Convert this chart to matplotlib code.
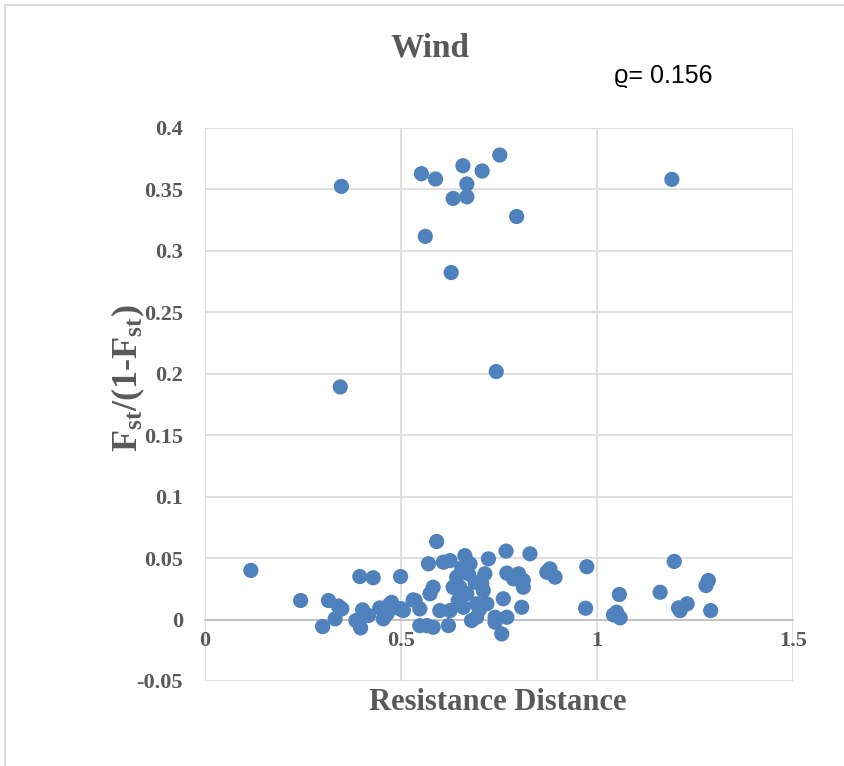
import numpy as np
import matplotlib.pyplot as plt
from matplotlib.lines import Line2D

plt.rcParams['mathtext.fontset'] = 'custom'
plt.rcParams['mathtext.rm'] = 'Liberation Serif:bold'
plt.rcParams['mathtext.bf'] = 'Liberation Serif:bold'
plt.rcParams['mathtext.it'] = 'Liberation Serif:bold'

# resistance distance vs Fst/(1-Fst)
res_dist = [0.348, 0.552, 0.588, 0.658, 0.707, 0.752, 0.668, 0.633, 0.668, 0.795,
            0.562, 0.628, 1.191, 0.345, 0.743,
            0.117, 0.244, 0.315, 0.340, 0.349, 0.332, 0.300, 0.395, 0.429, 0.499,
            0.402, 0.385, 0.397, 0.417, 0.446, 0.455, 0.476, 0.497, 0.531, 0.548,
            0.591, 0.570, 0.608, 0.625, 0.663, 0.676, 0.723, 0.768, 0.829,
            0.770, 0.800, 0.812, 0.812, 0.787, 0.880, 0.893, 0.974, 0.971,
            0.714, 0.706, 0.710, 0.582, 0.574, 0.536, 0.502, 0.566, 0.582, 0.621,
            0.680, 0.693, 0.740, 0.757, 0.761, 0.808, 0.642, 0.650, 0.633, 0.668,
            0.625, 0.599, 0.659, 0.693, 0.719, 0.770, 0.646, 0.672, 0.689, 0.548,
            0.740, 0.872, 0.506, 0.470, 0.465, 0.655, 0.700,
            1.057, 1.050, 1.042, 1.059, 1.161, 1.197, 1.208, 1.212, 1.230,
            1.284, 1.278, 1.290]
fst_ratio = [0.3525, 0.3628, 0.3585, 0.3693, 0.3650, 0.3780, 0.3544, 0.3427, 0.3440, 0.3280,
             0.3118, 0.2824, 0.3582, 0.1893, 0.2018,
             0.0400, 0.0155, 0.0155, 0.0110, 0.0087, 0.0006, -0.0057, 0.0350, 0.0340, 0.0350,
             0.0079, -0.0008, -0.0068, 0.0033, 0.0095, 0.0006, 0.0140, 0.0087, 0.0160, -0.0050,
             0.0635, 0.0454, 0.0467, 0.0480, 0.0520, 0.0454, 0.0494, 0.0557, 0.0535,
             0.0378, 0.0372, 0.0318, 0.0263, 0.0331, 0.0413, 0.0345, 0.0430, 0.0092,
             0.0372, 0.0290, 0.0236, 0.0263, 0.0210, 0.0155, 0.0087, -0.0049, -0.0063, -0.0049,
             -0.0008, 0.0019, 0.0019, -0.0117, 0.0169, 0.0100, 0.0345, 0.0263, 0.0263, 0.0210,
             0.0073, 0.0073, 0.0100, 0.0128, 0.0128, 0.0019, 0.0155, 0.0372, 0.0304, 0.0087,
             -0.0022, 0.0385, 0.0073, 0.0120, 0.0050, 0.0420, 0.0080,
             0.0204, 0.0060, 0.0038, 0.0014, 0.0222, 0.0473, 0.0095, 0.0073, 0.0128,
             0.0318, 0.0277, 0.0073]

xticks = [0, 0.5, 1, 1.5]
xlabels = ['0', '0.5', '1', '1.5']
yticks = [-0.05, 0, 0.05, 0.1, 0.15, 0.2, 0.25, 0.3, 0.35, 0.4]
ylabels = ['-0.05', '0', '0.05', '0.1', '0.15', '0.2', '0.25', '0.3', '0.35', '0.4']

txt = '#595959'
grid = '#d9d9d9'
serif = 'Liberation Serif'

fig = plt.figure(figsize=(8.44, 7.66), dpi=100)
ax = fig.add_axes([205/844, 1-681/766, 588/844, 553/766])

# horizontal axis crosses at y = 0, like the spreadsheet chart
for s in ['top', 'right', 'left']:
    ax.spines[s].set_visible(False)
ax.spines['bottom'].set_position(('data', 0))
ax.spines['bottom'].set_color('#bfbfbf')
ax.spines['bottom'].set_linewidth(1.2)

ax.scatter(res_dist, fst_ratio, s=120, color='#4F81BD', edgecolors='none', zorder=3)

ax.set_xlim(0, 1.5)
ax.set_ylim(-0.05, 0.4)
ax.set_xticks(xticks)
ax.set_xticklabels(xlabels)
ax.set_yticks(yticks)
ax.set_yticklabels(ylabels)
for lab in ax.get_xticklabels() + ax.get_yticklabels():
    lab.set_fontfamily(serif)
    lab.set_fontweight('bold')
    lab.set_fontsize(16)
    lab.set_color(txt)
ax.tick_params(axis='both', length=0)
ax.tick_params(axis='y', pad=16)
ax.tick_params(axis='x', pad=8)

ax.grid(True, color=grid, linewidth=1.2)
ax.set_axisbelow(True)

fig.text(430/844, 1-48/766, 'Wind', ha='center', va='center', fontsize=24,
         fontfamily=serif, fontweight='bold', color=txt)
fig.text(614/844, 1-76/766, '\u03f1= 0.156', ha='left', va='center', fontsize=18,
         family=['Liberation Sans', 'DejaVu Sans'], color='black')
fig.text(498/844, 1-703/766, 'Resistance Distance', ha='center', va='center',
         fontsize=22, fontfamily=serif, fontweight='bold', color=txt)
fig.text(128/844, 1-378/766, r'$\mathbf{F_{st}/(1\text{-}F_{st})}$', ha='center', va='center',
         rotation=90, fontsize=26, color=txt)

# outer chart frame (left and top edges visible)
fig.add_artist(Line2D([5/844, 5/844], [0, 1-5/766], transform=fig.transFigure,
                      color=grid, linewidth=1.5))
fig.add_artist(Line2D([5/844, 1], [1-5/766, 1-5/766], transform=fig.transFigure,
                      color=grid, linewidth=1.5))

fig.savefig('out.png', dpi=100)
